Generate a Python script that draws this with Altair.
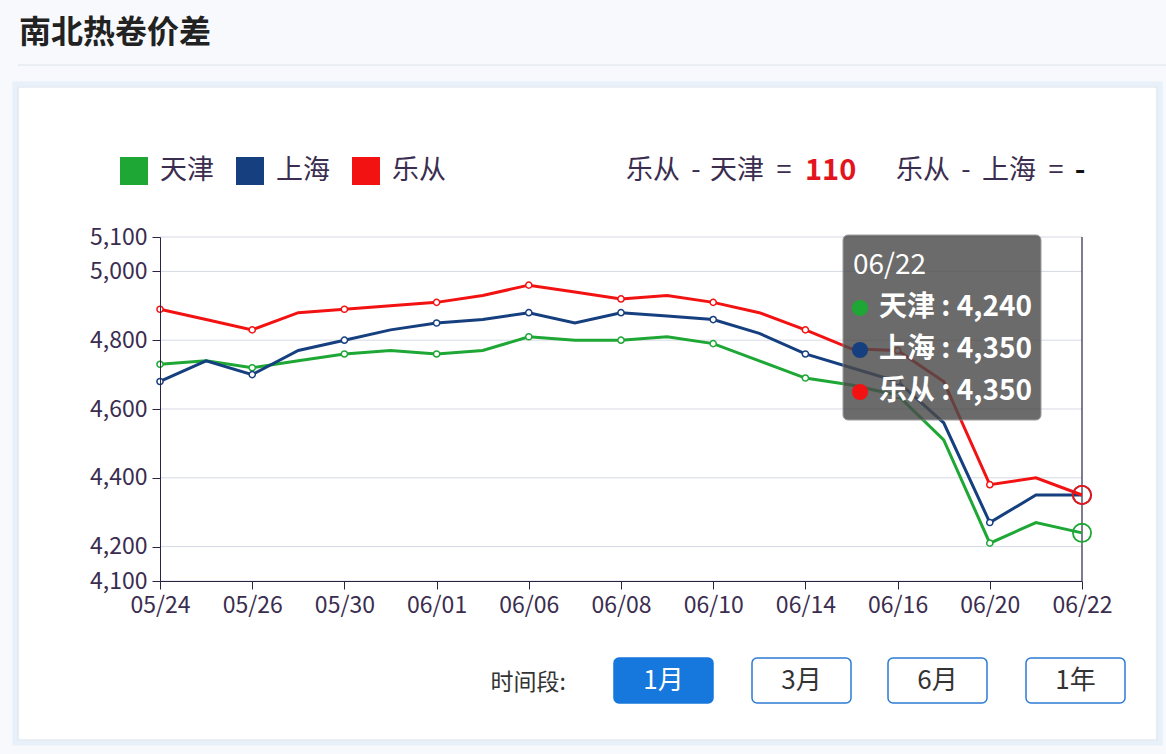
import altair as alt
import pandas as pd

# ---------------- data ----------------
dates = ["05/24", "05/25", "05/26", "05/27", "05/30", "05/31", "06/01", "06/02",
         "06/06", "06/07", "06/08", "06/09", "06/10", "06/13", "06/14", "06/15",
         "06/16", "06/17", "06/20", "06/21", "06/22"]
label_dates = dates[::2]
series = ["天津", "上海", "乐从"]
colors = ["#1ea735", "#163f7f", "#f31212"]
tianjin = [4730, 4740, 4720, 4740, 4760, 4770, 4760, 4770, 4810, 4800, 4800,
           4810, 4790, 4740, 4690, 4670, 4640, 4510, 4210, 4270, 4240]
shanghai = [4680, 4740, 4700, 4770, 4800, 4830, 4850, 4860, 4880, 4850, 4880,
            4870, 4860, 4820, 4760, 4720, 4680, 4560, 4270, 4350, 4350]
lecong = [4890, 4860, 4830, 4880, 4890, 4900, 4910, 4930, 4960, 4940, 4920,
          4930, 4910, 4880, 4830, 4775, 4770, 4680, 4380, 4400, 4350]
y_ticks = [4100, 4200, 4400, 4600, 4800, 5000, 5100]
periods = ["1月", "3月", "6月", "1年"]
title_text = "南北热卷价差"

FONT = "Noto Sans CJK SC"
TXT = "#3b2d4f"
AXC = "#2a2342"

rows = []
for name, vals in zip(series, [tianjin, shanghai, lecong]):
    for i, (d, v) in enumerate(zip(dates, vals)):
        rows.append({"date": d, "idx": i, "series": name, "value": v})
df = pd.DataFrame(rows)

X = alt.X("date:O", sort=dates,
          scale=alt.Scale(type="point", padding=0, domain=dates),
          axis=alt.Axis(values=label_dates, labelAngle=0, title=None,
                        labelFontSize=23, labelFont=FONT, labelColor=TXT,
                        tickSize=8, tickColor=AXC, domainColor=AXC,
                        labelPadding=5, grid=False, zindex=1))
Y = alt.Y("value:Q",
          scale=alt.Scale(domain=[4100, 5100], nice=False, zero=False),
          axis=alt.Axis(values=y_ticks, format=",d", title=None,
                        labelFontSize=23, labelFont=FONT, labelColor=TXT,
                        tickSize=8, tickColor=AXC, domainColor=AXC,
                        labelPadding=5, grid=False, zindex=1))
C = alt.Color("series:N", scale=alt.Scale(domain=series, range=colors), legend=None)

one = pd.DataFrame({"k": [0]})


def box(x, x2, y, y2, **kw):
    return alt.Chart(one).mark_rect(**kw).encode(
        x=alt.value(x), x2=alt.value(x2), y=alt.value(y), y2=alt.value(y2))


def label(text, x, y, **kw):
    return alt.Chart(one).mark_text(text=text, font=FONT, **kw).encode(
        x=alt.value(x), y=alt.value(y))


layers = []
# card
layers.append(box(-145, 1000, -153, 506, fill="#ffffff", stroke="#e8f0fa", strokeWidth=5))
layers.append(box(-142, 997, -150, 503, fill="#ffffff", stroke="#d9e2ec", strokeWidth=1.2))
# title + separator
layers.append(label(title_text, -141, -204, fontSize=32, fontWeight="bold",
                    color="#222222", align="left", baseline="middle"))
layers.append(alt.Chart(one).mark_rule(color="#e6ebf1", strokeWidth=1.5).encode(
    x=alt.value(-142), x2=alt.value(1006), y=alt.value(-172)))

# gridlines
grid_df = pd.DataFrame({"value": y_ticks})
layers.append(alt.Chart(grid_df).mark_rule(color="#d5d9e3", strokeWidth=1).encode(y=Y))

# legend layer (empty data, explicit domain)
layers.append(alt.Chart(df).transform_filter("datum.idx < 0").mark_square(filled=True).encode(
    fill=alt.Fill("series:N", scale=alt.Scale(domain=series, range=colors),
                  legend=alt.Legend(orient="none", legendX=-40, legendY=-80,
                                    direction="horizontal", title=None,
                                    symbolType="square", symbolSize=784,
                                    symbolStrokeWidth=0, labelFontSize=27,
                                    labelFont=FONT, labelColor=TXT,
                                    labelOffset=12, columnPadding=22,
                                    padding=0, symbolOpacity=1))))

# hover rule at last date
layers.append(alt.Chart(pd.DataFrame({"date": [dates[-1]]})).mark_rule(
    color=AXC, strokeWidth=1.2).encode(x=X))

# lines
layers.append(alt.Chart(df).mark_line(strokeWidth=3).encode(x=X, y=Y, color=C, detail="series:N"))
# small hollow markers
layers.append(alt.Chart(df).transform_filter("datum.idx % 2 == 0 && datum.idx < 20").mark_point(
    shape="circle", size=38, filled=True, fill="#ffffff", strokeWidth=1.5, opacity=1).encode(
    x=X, y=Y, stroke=alt.Stroke("series:N", scale=alt.Scale(domain=series, range=colors), legend=None)))
# hover circles
layers.append(alt.Chart(df).transform_filter("datum.idx == 20").mark_point(
    shape="circle", size=330, filled=False, strokeWidth=1.8, opacity=1).encode(
    x=X, y=Y, color=C))

# difference texts
diff = lecong[-1] - tianjin[-1]
MB = dict(baseline="middle")
layers.append(label("乐从", 466, -66, fontSize=27, color=TXT, align="left", **MB))
layers.append(label("-", 536, -66, fontSize=27, color=TXT, align="center", **MB))
layers.append(label("天津", 550, -66, fontSize=27, color=TXT, align="left", **MB))
layers.append(label("=", 624, -66, fontSize=27, color=TXT, align="center", **MB))
layers.append(label(str(diff), 645, -66, fontSize=29, fontWeight="bold", color="#e3141d",
                    align="left", **MB))
layers.append(label("乐从", 736, -66, fontSize=27, color=TXT, align="left", **MB))
layers.append(label("-", 806, -66, fontSize=27, color=TXT, align="center", **MB))
layers.append(label("上海", 822, -66, fontSize=27, color=TXT, align="left", **MB))
layers.append(label("=", 896, -66, fontSize=27, color=TXT, align="center", **MB))
layers.append(label("-", 920, -66, fontSize=29, fontWeight="bold", color="#111111",
                    align="center", **MB))

# tooltip
layers.append(box(683, 881, -2, 183, fill="#4b4b4b", opacity=0.82, cornerRadius=5,
                  stroke="#8a8a8a", strokeWidth=1))
layers.append(label(dates[-1], 693, 29, fontSize=28, color="#ffffff", align="left", **MB))
for r, (name, col, vals) in enumerate(zip(series, colors, [tianjin, shanghai, lecong])):
    yy = 71 + 42 * r
    layers.append(alt.Chart(one).mark_point(shape="circle", size=260, filled=True, color=col,
                                             opacity=1).encode(x=alt.value(700), y=alt.value(yy)))
    layers.append(label(f"{name} : {vals[-1]:,}", 719, yy, fontSize=28, fontWeight="bold",
                        color="#ffffff", align="left", **MB))

# period buttons
layers.append(label("时间段:", 406, 446, fontSize=23, color="#333333", align="right", **MB))
btn_x = [454, 592, 728, 866]
for p, bx in zip(periods, btn_x):
    active = p == periods[0]
    layers.append(box(bx, bx + 99, 421, 466, fill="#1677dd" if active else "#ffffff",
                      stroke="#1677dd" if active else "#2b7bd2", strokeWidth=1.5, cornerRadius=5))
    layers.append(label(p, bx + 49.5, 444, fontSize=26,
                        color="#ffffff" if active else "#333333",
                        align="center", **MB))

chart = alt.layer(*layers).properties(
    width=922, height=344,
    autosize=alt.AutoSizeParams(type="none"),
    padding={"left": 160, "top": 237, "right": 84, "bottom": 173},
    background="#f7f9fc",
).configure_view(stroke=None)

chart.save("out.html", embed_options={"renderer": "svg", "actions": False})
